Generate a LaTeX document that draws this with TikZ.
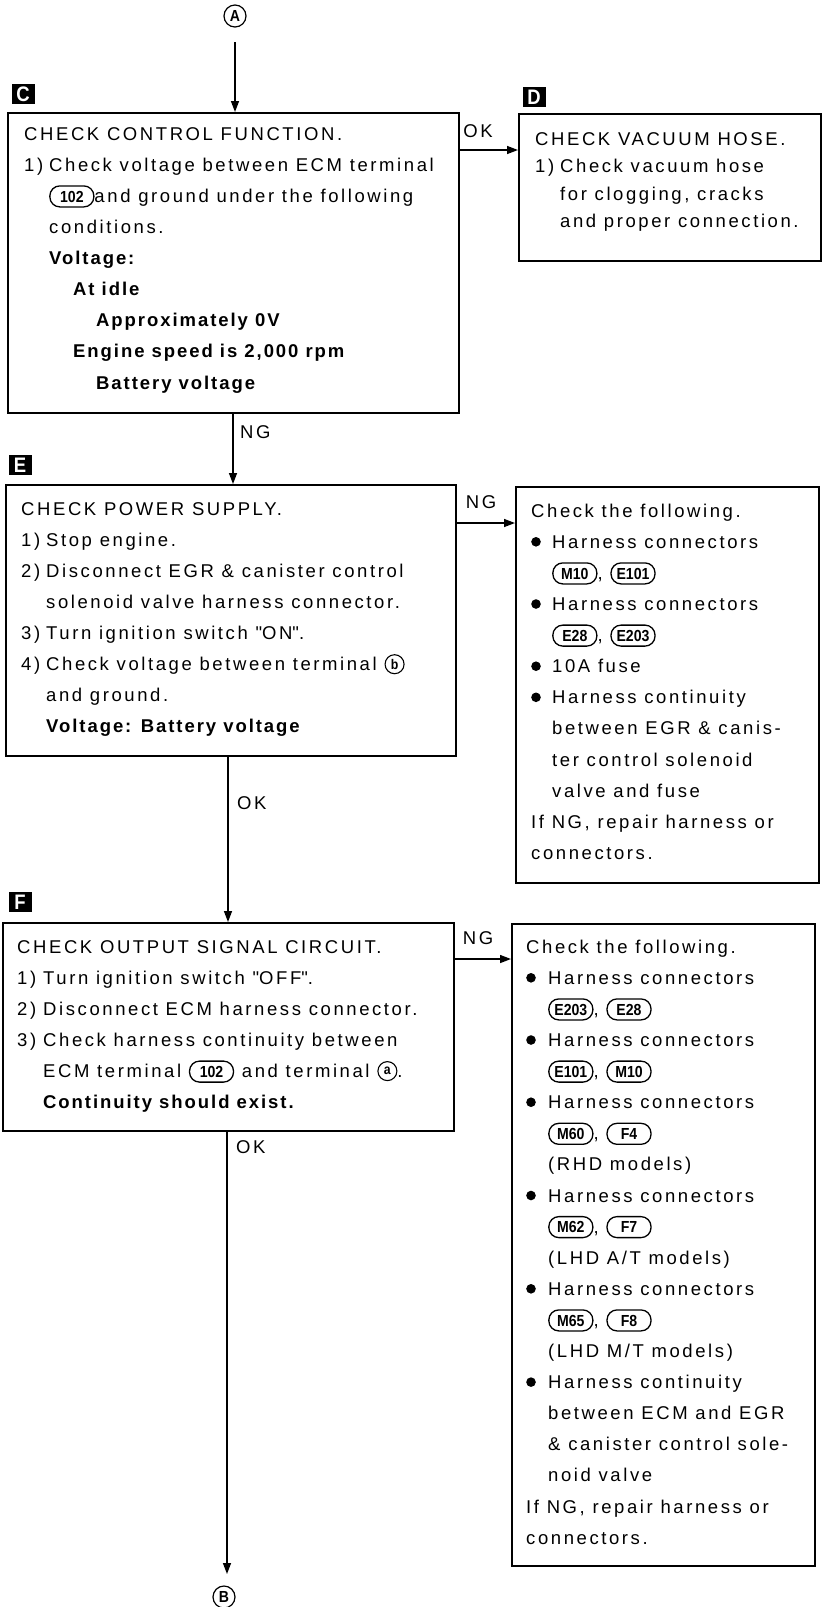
\documentclass[tikz,border=0pt]{standalone}
\usepackage{fontspec}
\setmainfont{Liberation Sans}[LetterSpace=14,BoldFeatures={LetterSpace=10.5}]
\newfontfamily\pillfont{Liberation Sans}[FakeStretch=0.88]
\usetikzlibrary{arrows.meta}
\newcounter{inl}
\tikzset{
  pillst/.style={draw, line width=1.3pt, rounded corners=10pt, minimum width=44pt, minimum height=21pt, inner sep=0pt, anchor=center, align=center, text=black, font=\pillfont\bfseries\fontsize{16}{16}\selectfont, text height=11.5pt, text depth=0pt},
  circst/.style={draw, circle, line width=1.1pt, minimum size=19pt, inner sep=0pt, anchor=center, align=center, text=black, font=\pillfont\bfseries\fontsize{14}{14}\selectfont},
  box/.style={draw, line width=1.6pt, inner sep=0pt, anchor=north west},
  txt/.style={anchor=north west, inner sep=0pt, align=left, font=\fontsize{18.5}{31.1}\selectfont},
  lbl/.style={fill=black, text=white, inner sep=0pt, minimum width=23pt, minimum height=20pt, font=\pillfont\bfseries\fontsize{21}{21}\selectfont},
  bigcirc/.style={draw, circle, line width=1.2pt, minimum size=22pt, inner sep=0pt, font=\pillfont\bfseries\fontsize{16}{16}\selectfont},
  lab/.style={inner sep=0pt, font=\fontsize{18.5}{20}\selectfont},
  arr/.style={line width=1.4pt, -{Triangle[length=11pt,width=8pt]}}
}
\newcommand{\pill}[1]{\stepcounter{inl}\tikz[baseline=-6pt]\node[pillst] (inl\arabic{inl}) at (0,0) {#1};}
\newcommand{\circl}[1]{\stepcounter{inl}\tikz[baseline=-6.5pt]\node[circst] (inl\arabic{inl}) at (0,0) {#1};}
\newcommand{\bul}{\tikz[baseline=0pt]\fill (4.8pt,6.5pt) circle (4.8pt);}
\newcommand{\itm}[2]{\makebox[#1][l]{#2}}
\begin{document}
\begin{tikzpicture}[x=1pt,y=-1pt]
\fill[white] (0,0) rectangle (826,1607);
\useasboundingbox (0,0) rectangle (826,1607);

% connector circles
\node[bigcirc] (ca) at (235,16) {A};
\node[bigcirc] (cb) at (224,1597) {B};

% step labels
\node[lbl] (lc) at (23,94) {C};
\node[lbl] (ld) at (534,97) {D};
\node[lbl] (le) at (20,465) {E};
\node[lbl] (lf) at (20,902) {F};

% boxes
\node[box, minimum width=451pt, minimum height=300pt] (cbox) at (7,112) {};
\node[box, minimum width=302pt, minimum height=147pt] (dbox) at (518,113) {};
\node[box, minimum width=450pt, minimum height=271pt] (ebox) at (5,484) {};
\node[box, minimum width=303pt, minimum height=396pt] (ng1box) at (515,486) {};
\node[box, minimum width=451pt, minimum height=208pt] (fbox) at (2,922) {};
\node[box, minimum width=303pt, minimum height=642pt] (ng2box) at (511,923) {};

% texts
\node[txt] (ctext) at (24,118) {\rule{0pt}{22pt}CHECK CONTROL FUNCTION.\\
\itm{25pt}{1)}Check voltage between ECM terminal\\
\hspace*{25pt}\pill{102}and ground under the following\\
\hspace*{25pt}conditions.\\
\hspace*{25pt}\textbf{Voltage:}\\
\hspace*{49pt}\textbf{At idle}\\
\hspace*{72pt}\textbf{Approximately 0V}\\
\hspace*{49pt}\textbf{Engine speed is 2,000 rpm}\\
\hspace*{72pt}\textbf{Battery voltage}};

\node[txt, font=\fontsize{18.5}{27.5}\selectfont] (dtext) at (535,123) {\rule{0pt}{22pt}CHECK VACUUM HOSE.\\
\itm{25pt}{1)}Check vacuum hose\\
\hspace*{25pt}for clogging, cracks\\
\hspace*{25pt}and proper connection.};

\node[txt] (etext) at (21,493) {\rule{0pt}{22pt}CHECK POWER SUPPLY.\\
\itm{25pt}{1)}Stop engine.\\
\itm{25pt}{2)}Disconnect EGR \& canister control\\
\hspace*{25pt}solenoid valve harness connector.\\
\itm{25pt}{3)}Turn ignition switch \textquotedbl ON\textquotedbl.\\
\itm{25pt}{4)}Check voltage between terminal \circl{b}\\
\hspace*{25pt}and ground.\\
\hspace*{25pt}\textbf{Voltage: Battery voltage}};

\node[txt] (ng1text) at (531,495) {\rule{0pt}{22pt}Check the following.\\
\itm{21pt}{\bul}Harness connectors\\
\hspace*{21pt}\pill{M10}, \pill{E101}\\
\itm{21pt}{\bul}Harness connectors\\
\hspace*{21pt}\pill{E28}, \pill{E203}\\
\itm{21pt}{\bul}10A fuse\\
\itm{21pt}{\bul}Harness continuity\\
\hspace*{21pt}between EGR \& canis-\\
\hspace*{21pt}ter control solenoid\\
\hspace*{21pt}valve and fuse\\
If NG, repair harness or\\
connectors.};

\node[txt] (ftext) at (17,931) {\rule{0pt}{22pt}CHECK OUTPUT SIGNAL CIRCUIT.\\
\itm{26pt}{1)}Turn ignition switch \textquotedbl OFF\textquotedbl.\\
\itm{26pt}{2)}Disconnect ECM harness connector.\\
\itm{26pt}{3)}Check harness continuity between\\
\hspace*{26pt}ECM terminal \pill{102} and terminal \circl{a}.\\
\hspace*{26pt}\textbf{Continuity should exist.}};

\node[txt] (ng2text) at (526,931) {\rule{0pt}{22pt}Check the following.\\
\itm{22pt}{\bul}Harness connectors\\
\hspace*{22pt}\pill{E203}, \pill{E28}\\
\itm{22pt}{\bul}Harness connectors\\
\hspace*{22pt}\pill{E101}, \pill{M10}\\
\itm{22pt}{\bul}Harness connectors\\
\hspace*{22pt}\pill{M60}, \pill{F4}\\
\hspace*{22pt}(RHD models)\\
\itm{22pt}{\bul}Harness connectors\\
\hspace*{22pt}\pill{M62}, \pill{F7}\\
\hspace*{22pt}(LHD A/T models)\\
\itm{22pt}{\bul}Harness connectors\\
\hspace*{22pt}\pill{M65}, \pill{F8}\\
\hspace*{22pt}(LHD M/T models)\\
\itm{22pt}{\bul}Harness continuity\\
\hspace*{22pt}between ECM and EGR\\
\hspace*{22pt}\& canister control sole-\\
\hspace*{22pt}noid valve\\
If NG, repair harness or\\
connectors.};

% connector coordinates
\coordinate (a1) at (235,42);
\coordinate (xce) at (233,0);
\coordinate (xef) at (228,0);
\coordinate (xfb) at (227,0);
\coordinate (b1) at (227,1574);
\coordinate (ycd) at (0,150);
\coordinate (yen) at (0,523);
\coordinate (yfn) at (0,959);

% vertical arrows
\draw[arr] (a1) -- (cbox.north -| a1);
\draw[arr] (cbox.south -| xce) -- (ebox.north -| xce);
\draw[arr] (ebox.south -| xef) -- (fbox.north -| xef);
\draw[arr] (fbox.south -| xfb) -- (b1);

% horizontal arrows
\draw[arr] (cbox.east |- ycd) -- (dbox.west |- ycd);
\draw[arr] (ebox.east |- yen) -- (ng1box.west |- yen);
\draw[arr] (fbox.east |- yfn) -- (ng2box.west |- yfn);

% labels
\node[lab] (ok1) at (478,131) {OK};
\node[lab, anchor=west] (ng1) at (240,432) {NG};
\node[lab] (ng2) at (481,502) {NG};
\node[lab, anchor=west] (ok2) at (237,803) {OK};
\node[lab] (ng3) at (478,938) {NG};
\node[lab, anchor=west] (ok3) at (236,1147) {OK};
\end{tikzpicture}
\end{document}
